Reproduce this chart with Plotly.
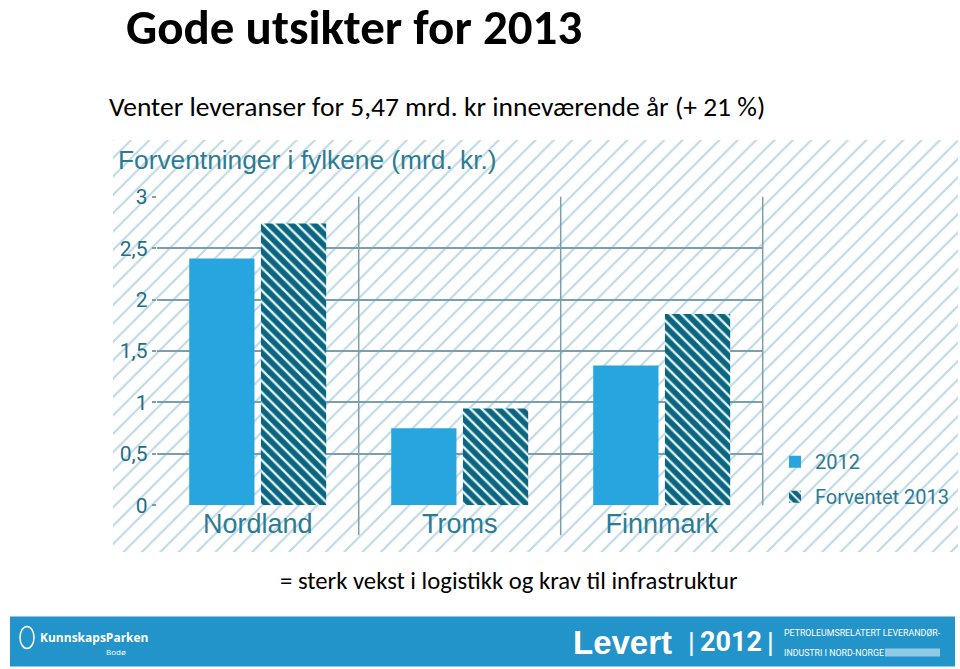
import plotly.graph_objects as go

# ---- data ----
categories = ["Nordland", "Troms", "Finnmark"]
values_2012 = [2.40, 0.75, 1.36]
values_2013 = [2.74, 0.94, 1.86]
series_names = ["2012", "Forventet 2013"]
y_tick_values = [0, 0.5, 1, 1.5, 2, 2.5, 3]
y_tick_labels = ["0", "0,5", "1", "1,5", "2", "2,5", "3"]

W, H = 960, 669
# the captured picture shows the page with ~13 px extra above and below the figure,
# squeezed back to 669 px; map target picture rows to figure rows accordingly
PAD = 13.0
SCALE = H / (H + 2 * PAD)
def px(x):
    return x / W
def py(y_pic):
    y_fig = (y_pic - PAD * SCALE) / SCALE
    return 1 - y_fig / H

C_BLUE = "#27a5df"
C_TEAL = "#0b657e"
C_TEXT = "#2b7c93"
C_GRID = "#7b9fab"
NARROW = "Roboto, Liberation Sans, sans-serif"
BODY = "Carlito, Lato, Calibri, sans-serif"
WIDE = "Liberation Sans, Arial, sans-serif"

fig = go.Figure()

# background hatched panel (subplot xy, drawn first)
fig.add_trace(go.Bar(
    x=[0], y=[1], base=[0], width=[1], xaxis="x", yaxis="y",
    marker=dict(color="white", line=dict(width=0),
                pattern=dict(shape="/", size=13, solidity=0.15,
                             fgcolor="#bcd8e6", bgcolor="white", fgopacity=1)),
    showlegend=False, hoverinfo="skip",
))
# main bars (subplot x2y2)
fig.add_trace(go.Bar(
    x=categories, y=values_2012, name=series_names[0],
    xaxis="x2", yaxis="y2", legendgroup="a",
    marker=dict(color=C_BLUE, line=dict(width=0)),
))
fig.add_trace(go.Bar(
    x=categories, y=values_2013, name=series_names[1],
    xaxis="x2", yaxis="y2", legendgroup="b",
    marker=dict(color=C_TEAL, line=dict(width=0),
                pattern=dict(shape="\\", size=8, solidity=0.3,
                             fgcolor="#e2f5fb", bgcolor=C_TEAL, fgopacity=1)),
))

shapes = []
n = len(categories)
for k in range(1, n + 1):
    shapes.append(dict(
        type="line", xref="x2 domain", yref="paper",
        x0=k / n, x1=k / n, y0=py(535) if k < n else py(505), y1=py(197),
        line=dict(color=C_GRID, width=1.5), layer="above",
    ))
# footer banner
shapes.append(dict(type="rect", xref="paper", yref="paper",
                   x0=px(10), x1=px(955), y0=py(666), y1=py(616),
                   fillcolor="#2394ca", line=dict(width=0), layer="above"))
shapes.append(dict(type="rect", xref="paper", yref="paper",
                   x0=px(885), x1=px(940), y0=py(656), y1=py(648),
                   fillcolor="#8fcbe6", line=dict(width=0), layer="above"))
shapes.append(dict(type="circle", xref="paper", yref="paper",
                   x0=px(20), x1=px(34), y0=py(648), y1=py(626),
                   line=dict(color="white", width=1.5), layer="above"))

annotations = [
    dict(text="<b>Gode utsikter for 2013</b>", x=px(354), y=py(27), xref="paper", yref="paper",
         showarrow=False, xanchor="center", yanchor="middle",
         font=dict(family=BODY, size=49, color="#000000")),
    dict(text="Venter leveranser for 5,47 mrd. kr inneværende år (+ 21 %)", x=px(107), y=py(107),
         xref="paper", yref="paper", showarrow=False, xanchor="left", yanchor="middle",
         font=dict(family=BODY, size=27.5, color="#000000")),
    dict(text="= sterk vekst i logistikk og krav til infrastruktur", x=px(509), y=py(580),
         xref="paper", yref="paper", showarrow=False, xanchor="center", yanchor="middle",
         font=dict(family=BODY, size=24.7, color="#000000")),
    dict(text="Forventninger i fylkene (mrd. kr.)", x=px(116), y=py(160), xref="paper", yref="paper",
         showarrow=False, xanchor="left", yanchor="middle",
         font=dict(family=WIDE, size=26.3, color=C_TEXT)),
    # footer texts
    dict(text="<b>KunnskapsParken</b>", x=px(38), y=py(637), xref="paper", yref="paper",
         showarrow=False, xanchor="left", yanchor="middle",
         font=dict(family="Open Sans, sans-serif", size=12, color="white")),
    dict(text="Bodø", x=px(128), y=py(651), xref="paper", yref="paper",
         showarrow=False, xanchor="right", yanchor="middle",
         font=dict(family="Open Sans, sans-serif", size=8, color="white")),
    dict(text="<b>Levert</b>", x=px(571), y=py(642), xref="paper", yref="paper",
         showarrow=False, xanchor="left", yanchor="middle",
         font=dict(family=WIDE, size=33, color="white")),
    dict(text="|", x=px(691), y=py(642), xref="paper", yref="paper",
         showarrow=False, xanchor="center", yanchor="middle",
         font=dict(family=WIDE, size=26, color="white")),
    dict(text="<b>2012</b>", x=px(731), y=py(642), xref="paper", yref="paper",
         showarrow=False, xanchor="center", yanchor="middle",
         font=dict(family=NARROW, size=27, color="white")),
    dict(text="|", x=px(770), y=py(642), xref="paper", yref="paper",
         showarrow=False, xanchor="center", yanchor="middle",
         font=dict(family=WIDE, size=26, color="white")),
    dict(text="PETROLEUMSRELATERT LEVERANDØR-", x=px(782), y=py(633), xref="paper", yref="paper",
         showarrow=False, xanchor="left", yanchor="middle",
         font=dict(family=NARROW, size=8.8, color="white")),
    dict(text="INDUSTRI I NORD-NORGE", x=px(782), y=py(652), xref="paper", yref="paper",
         showarrow=False, xanchor="left", yanchor="middle",
         font=dict(family=NARROW, size=8.8, color="white")),
]

fig.update_layout(
    width=W, height=H,
    margin=dict(l=0, r=0, t=0, b=0),
    paper_bgcolor="white", plot_bgcolor="rgba(0,0,0,0)",
    barmode="group", bargap=0.29, bargroupgap=0.09,
    showlegend=True,
    legend=dict(x=px(775), y=py(442), xanchor="left", yanchor="top",
                bgcolor="rgba(0,0,0,0)", font=dict(family=NARROW, size=20, color=C_TEXT),
                tracegroupgap=6),
    xaxis=dict(domain=[px(113), px(958)], range=[-0.5, 0.5], visible=False, fixedrange=True),
    yaxis=dict(domain=[py(552), py(140)], range=[0, 1], visible=False, fixedrange=True),
    xaxis2=dict(domain=[px(156.7), px(762.7)], anchor="y2", range=[-0.5, 2.5],
                showgrid=False, showline=False, zeroline=False, ticks="",
                tickfont=dict(family=WIDE, size=27, color=C_TEXT)),
    yaxis2=dict(domain=[py(505), py(197)], anchor="x2", range=[0, 3],
                tickvals=y_tick_values, ticktext=y_tick_labels,
                showgrid=True, gridcolor=C_GRID, gridwidth=1.5,
                zeroline=False, showline=False,
                ticks="outside", ticklen=4, tickcolor=C_GRID, tickwidth=1.5,
                tickfont=dict(family=NARROW, size=21, color="#1f6f86")),
    shapes=shapes,
    annotations=annotations,
)

fig.write_html(
    "out.html",
    config={"displayModeBar": False},
    post_script=(
        "document.documentElement.style.margin='0';"
        "document.documentElement.style.overflow='hidden';"
        "document.body.style.margin='0';"
        "document.body.style.overflow='hidden';"
        "var gd=document.querySelector('.plotly-graph-div');"
        "gd.style.position='fixed';gd.style.left='0px';gd.style.top='0px';"
    ),
)
